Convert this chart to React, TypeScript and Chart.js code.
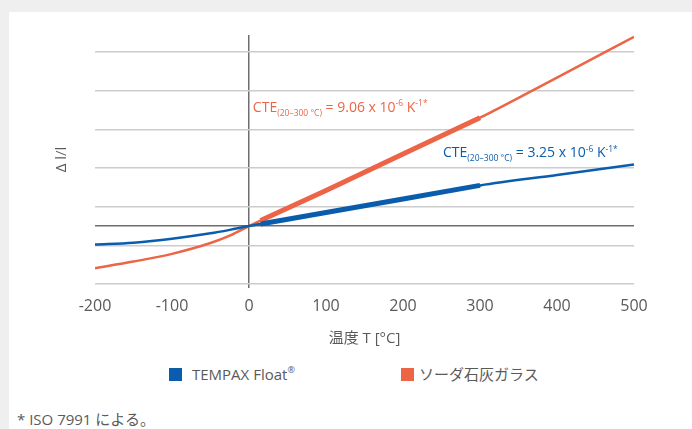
import React, { useEffect, useRef } from "react";
import { Chart, registerables } from "chart.js";

Chart.register(...registerables);

// ---- data ----
const temperatures = [-200, -150, -100, -50, -25, 0, 100, 200, 300, 400, 500];
const tempaxValues = [-0.48, -0.43, -0.33, -0.19, -0.1, 0, 0.35, 0.7, 1.05, 1.32, 1.59];
const sodaLimeValues = [-1.09, -0.92, -0.72, -0.44, -0.25, 0, 0.92, 1.86, 2.8, 3.84, 4.89];

const cteTemperatures = [15, 100, 200, 300];
const tempaxCteValues = [0.05, 0.35, 0.7, 1.05];
const sodaLimeCteValues = [0.14, 0.92, 1.86, 2.8];

const xTickValues = [-200, -100, 0, 100, 200, 300, 400, 500];
const yGridValues = [-1.5, -0.5, 0, 0.5, 1.5, 2.5, 3.5, 4.5];

const seriesLabels = ["TEMPAX Float®", "ソーダ石灰ガラス"];
const xAxisTitle = "温度 T [°C]";
const yAxisTitle = "Δ l/l";
const footnote = "* ISO 7991 による。";

type Part = [string, "n" | "sub" | "sup"];
const sodaLimeCteText: Part[] = [
  ["CTE", "n"],
  ["(20–300 °C)", "sub"],
  [" = 9.06 x 10", "n"],
  ["-6", "sup"],
  [" K", "n"],
  ["-1", "sup"],
  ["*", "sup"],
];
const tempaxCteText: Part[] = [
  ["CTE", "n"],
  ["(20–300 °C)", "sub"],
  [" = 3.25 x 10", "n"],
  ["-6", "sup"],
  [" K", "n"],
  ["-1", "sup"],
  ["*", "sup"],
];
// anchor of each annotation, in data units (temperature, Δl/l)
const annotationAnchors = [
  { x: 5, y: 2.95 },
  { x: 252, y: 1.78 },
];

// ---- styles ----
const BLUE = "#0a5dac";
const ORANGE = "#ec6546";
const FONT = "'Open Sans', 'Noto Sans CJK JP', sans-serif";

const annotationPlugin = {
  id: "cteAnnotations",
  afterDatasetsDraw(chart: any) {
    const { ctx, scales } = chart;
    const texts = [sodaLimeCteText, tempaxCteText];
    const colors = [ORANGE, BLUE];
    ctx.save();
    ctx.textBaseline = "alphabetic";
    ctx.textAlign = "left";
    texts.forEach((parts, i) => {
      let cx = scales.x.getPixelForValue(annotationAnchors[i].x);
      const cy = scales.y.getPixelForValue(annotationAnchors[i].y);
      ctx.fillStyle = colors[i];
      for (const [t, kind] of parts) {
        const size = kind === "n" ? 14 : 8.5;
        const dy = kind === "sub" ? 4 : kind === "sup" ? -5.5 : 0;
        ctx.font = `${size}px ${FONT}`;
        ctx.fillText(t, cx, cy + dy);
        cx += ctx.measureText(t).width;
      }
    });
    ctx.restore();
  },
};

export default function App() {
  const canvasRef = useRef<HTMLCanvasElement | null>(null);

  useEffect(() => {
    document.body.style.margin = "0";
    const canvas = canvasRef.current;
    if (!canvas) return;
    const chart = new Chart(canvas, {
      type: "line",
      data: {
        datasets: [
          {
            label: seriesLabels[0],
            data: temperatures.map((t, i) => ({ x: t, y: tempaxValues[i] })),
            borderColor: BLUE,
            borderWidth: 2.5,
            pointRadius: 0,
            cubicInterpolationMode: "monotone",
          },
          {
            label: seriesLabels[1],
            data: temperatures.map((t, i) => ({ x: t, y: sodaLimeValues[i] })),
            borderColor: ORANGE,
            borderWidth: 2.5,
            pointRadius: 0,
            cubicInterpolationMode: "monotone",
          },
          {
            label: seriesLabels[0] + " CTE",
            data: cteTemperatures.map((t, i) => ({ x: t, y: tempaxCteValues[i] })),
            borderColor: BLUE,
            borderWidth: 5,
            pointRadius: 0,
          },
          {
            label: seriesLabels[1] + " CTE",
            data: cteTemperatures.map((t, i) => ({ x: t, y: sodaLimeCteValues[i] })),
            borderColor: ORANGE,
            borderWidth: 5,
            pointRadius: 0,
          },
        ],
      },
      options: {
        animation: false,
        responsive: false,
        layout: { padding: { top: 23, right: 58, left: 0, bottom: 0 } },
        plugins: {
          legend: { display: false },
          tooltip: { enabled: false },
        },
        scales: {
          x: {
            type: "linear",
            min: -200,
            max: 500,
            afterBuildTicks: (scale: any) => {
              scale.ticks = xTickValues.map((v) => ({ value: v }));
            },
            afterFit: (scale: any) => {
              scale.height = 71;
            },
            border: { display: false },
            grid: {
              color: (c: any) => (c.tick && c.tick.value === 0 ? "#6e6e6e" : "rgba(0,0,0,0)"),
              lineWidth: 1.5,
              tickLength: 4,
            },
            ticks: {
              color: "#5a5a5a",
              padding: 9,
              font: { family: FONT, size: 16 },
              maxRotation: 0,
            },
            title: {
              display: true,
              text: xAxisTitle,
              color: "#5a5a5a",
              font: { family: FONT, size: 15 },
              padding: { top: 0, bottom: 7 },
            },
          },
          y: {
            type: "linear",
            min: -1.5,
            max: 4.94,
            afterBuildTicks: (scale: any) => {
              scale.ticks = yGridValues.map((v) => ({ value: v }));
            },
            afterFit: (scale: any) => {
              scale.width = 86;
            },
            border: { display: false },
            grid: {
              color: (c: any) => (c.tick && c.tick.value === 0 ? "#6e6e6e" : "#cccccc"),
              lineWidth: 1.5,
              drawTicks: false,
            },
            ticks: { display: false },
            title: {
              display: true,
              text: yAxisTitle,
              color: "#5a5a5a",
              font: { family: FONT, size: 15 },
              padding: { top: 44, bottom: 0 },
            },
          },
        },
      },
      plugins: [annotationPlugin],
    } as any);
    return () => chart.destroy();
  }, []);

  const legendText: React.CSSProperties = {
    position: "absolute",
    top: 364,
    fontFamily: FONT,
    fontSize: 15,
    color: "#5a5a5a",
    lineHeight: "20px",
    whiteSpace: "nowrap",
  };
  const box = (left: number, color: string): React.CSSProperties => ({
    position: "absolute",
    left,
    top: 368,
    width: 13,
    height: 13,
    background: color,
  });

  return (
    <div
      style={{
        position: "fixed",
        left: 0,
        top: 0,
        width: 692,
        height: 429,
        background: "#efefef",
        overflow: "hidden",
      }}
    >
      <div
        style={{
          position: "absolute",
          left: 9,
          top: 12,
          width: 683,
          height: 417,
          background: "#ffffff",
        }}
      />
      <canvas
        ref={canvasRef}
        width={683}
        height={343}
        style={{ position: "absolute", left: 9, top: 12, width: 683, height: 343 }}
      />
      <div style={box(169, BLUE)} />
      <div style={{ ...legendText, left: 192 }}>
        TEMPAX Float<sup style={{ fontSize: 9, verticalAlign: "top", lineHeight: "12px" }}>®</sup>
      </div>
      <div style={box(401, ORANGE)} />
      <div style={{ ...legendText, left: 419 }}>{seriesLabels[1]}</div>
      <div
        style={{
          position: "absolute",
          left: 17,
          top: 409,
          fontFamily: FONT,
          fontSize: 15,
          color: "#5a5a5a",
          lineHeight: "20px",
          whiteSpace: "nowrap",
        }}
      >
        {footnote}
      </div>
    </div>
  );
}
